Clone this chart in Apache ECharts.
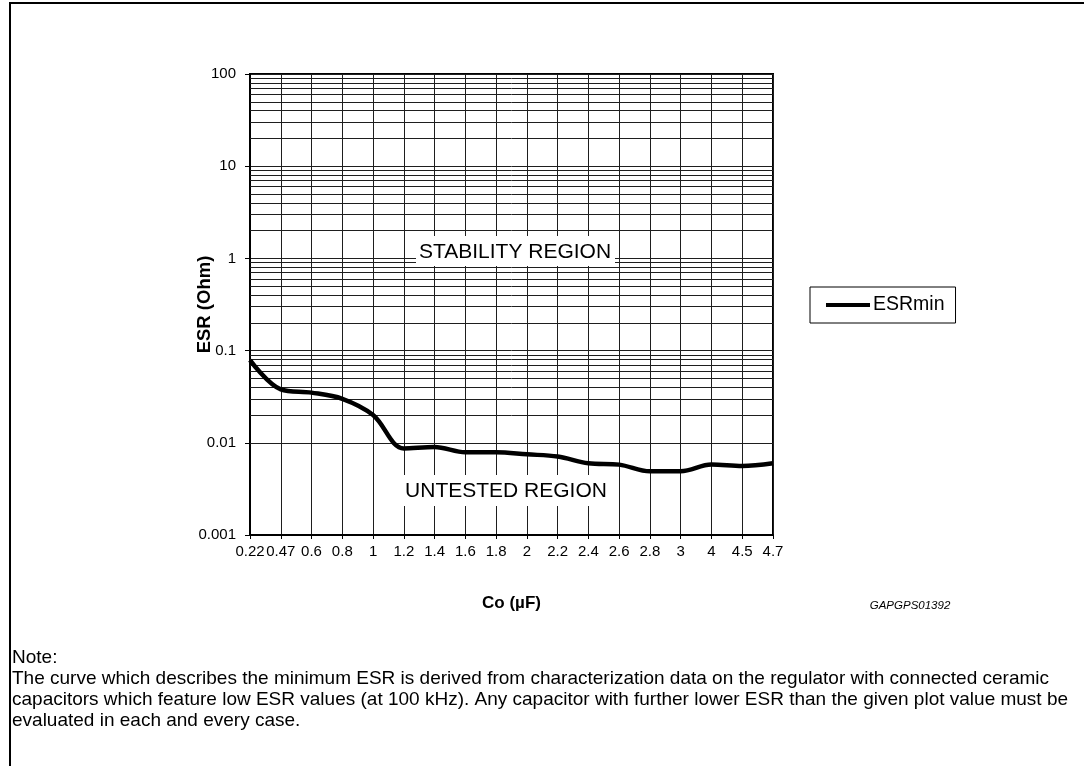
<!DOCTYPE html>
<html>
<head>
<meta charset="utf-8">
<script src="https://cdn.jsdelivr.net/npm/echarts@6/dist/echarts.min.js"></script>
<style>
  html, body { margin: 0; padding: 0; background: #fff; }
  #chart { width: 1084px; height: 766px; }
</style>
</head>
<body>
<div id="chart"></div>
<script>
// Output capacitance (µF) along the x axis
const capacitance = ['0.22', '0.47', '0.6', '0.8', '1', '1.2', '1.4', '1.6', '1.8', '2',
                     '2.2', '2.4', '2.6', '2.8', '3', '4', '4.5', '4.7'];
// Minimum ESR (Ohm) for stable operation
const esrMin = [0.079, 0.038, 0.035, 0.030, 0.020, 0.0087, 0.0090, 0.0079, 0.0079, 0.0075,
                0.0071, 0.0060, 0.0058, 0.0049, 0.0049, 0.0058, 0.0056, 0.0060];
// Log axis decades and the intermediate grid lines (2..9 of each decade)
const decades = [0.001, 0.01, 0.1, 1, 10];
const minorSteps = [2, 3, 4, 5, 6, 7, 8, 9];

const FONT = '"Liberation Sans", Arial, sans-serif';
const GRID_COLOR = '#1e1e1e';

const minorLines = [];
decades.forEach(d => minorSteps.forEach(m => minorLines.push({ yAxis: +(d * m).toPrecision(6) })));

const noteLines = [
  'Note:',
  'The curve which describes the minimum ESR is derived from characterization data on the regulator with connected ceramic',
  'capacitors which feature low ESR values (at 100 kHz). Any capacitor with further lower ESR than the given plot value must be',
  'evaluated in each and every case.'
];

const chart = echarts.init(document.getElementById('chart'), null, { renderer: 'canvas' });

chart.setOption({
  animation: false,
  backgroundColor: '#fff',
  textStyle: { fontFamily: FONT },
  grid: {
    left: 250, top: 74, right: 311, bottom: 231,
    show: true, borderColor: '#000', borderWidth: 2, backgroundColor: 'transparent'
  },
  legend: {
    data: ['ESRmin'],
    left: 810, top: 287,
    orient: 'vertical',
    icon: 'rect',
    itemWidth: 44, itemHeight: 4,
    borderColor: '#000', borderWidth: 1,
    padding: [8, 11, 8, 16],
    textStyle: { fontFamily: FONT, fontSize: 19.5, color: '#000', padding: [0, 0, 0, -2] },
    selectedMode: false
  },
  xAxis: {
    type: 'category',
    data: capacitance,
    boundaryGap: false,
    name: 'Co (µF)',
    nameLocation: 'middle',
    nameGap: 60,
    nameTextStyle: { fontFamily: FONT, fontSize: 17, fontWeight: 'bold', color: '#000' },
    axisLine: { show: true, lineStyle: { color: '#000', width: 2 } },
    axisTick: { show: true, length: 4, lineStyle: { color: '#000', width: 1 } },
    axisLabel: { interval: 0, fontSize: 15, color: '#000', margin: 9, fontFamily: FONT },
    splitLine: { show: true, lineStyle: { color: GRID_COLOR, width: 1 } }
  },
  yAxis: {
    type: 'log',
    logBase: 10,
    min: 0.001,
    max: 100,
    name: 'ESR (Ohm)',
    nameLocation: 'middle',
    nameGap: 36,
    nameMoveOverlap: false,
    nameRotate: 90,
    nameTextStyle: { fontFamily: FONT, fontSize: 18.5, fontWeight: 'bold', color: '#000' },
    axisLine: { show: true, lineStyle: { color: '#000', width: 2 } },
    axisTick: { show: true, length: 5, lineStyle: { color: '#000', width: 1 } },
    axisLabel: {
      fontSize: 15, color: '#000', margin: 14, fontFamily: FONT,
      formatter: v => String(+(+v).toPrecision(6))
    },
    splitLine: { show: true, lineStyle: { color: GRID_COLOR, width: 1 } }
  },
  series: [
    {
      name: 'grid',
      type: 'line',
      data: [],
      z: 1,
      silent: true,
      markLine: {
        silent: true,
        symbol: ['none', 'none'],
        label: { show: false },
        lineStyle: { type: 'solid', color: GRID_COLOR, width: 1 },
        emphasis: { disabled: true },
        data: minorLines
      }
    },
    {
      name: 'ESRmin',
      type: 'line',
      data: esrMin,
      z: 5,
      smooth: 0.35,
      showSymbol: false,
      symbol: 'none',
      lineStyle: { color: '#000', width: 4.5 },
      itemStyle: { color: '#000' }
    }
  ],
  graphic: [
    // page frame
    { type: 'polyline', z: 100, silent: true,
      shape: { points: [[10, 770], [10, 3], [1090, 3]] },
      style: { stroke: '#000', lineWidth: 2, fill: null } },
    // region captions
    { type: 'rect', z: 100, silent: true,
      shape: { x: 416, y: 236, width: 199, height: 30 }, style: { fill: '#fff' } },
    { type: 'text', z: 101, silent: true, x: 515, y: 252,
      style: { text: 'STABILITY REGION', fill: '#000', font: '21px ' + FONT, align: 'center', verticalAlign: 'middle' } },
    { type: 'rect', z: 100, silent: true,
      shape: { x: 403, y: 475, width: 214, height: 31 }, style: { fill: '#fff' } },
    { type: 'text', z: 101, silent: true, x: 506, y: 491,
      style: { text: 'UNTESTED REGION', fill: '#000', font: '21px ' + FONT, align: 'center', verticalAlign: 'middle' } },
    // drawing reference code
    { type: 'text', z: 101, silent: true, x: 910, y: 606,
      style: { text: 'GAPGPS01392', fill: '#000', font: 'italic 11.5px ' + FONT, align: 'center', verticalAlign: 'middle' } },
    // note block
    ...noteLines.map((t, i) => ({
      type: 'text', z: 101, silent: true, x: 12, y: 658 + i * 21,
      style: { text: t, fill: '#000', font: '19px ' + FONT, align: 'left', verticalAlign: 'middle' }
    }))
  ]
});
</script>
</body>
</html>
